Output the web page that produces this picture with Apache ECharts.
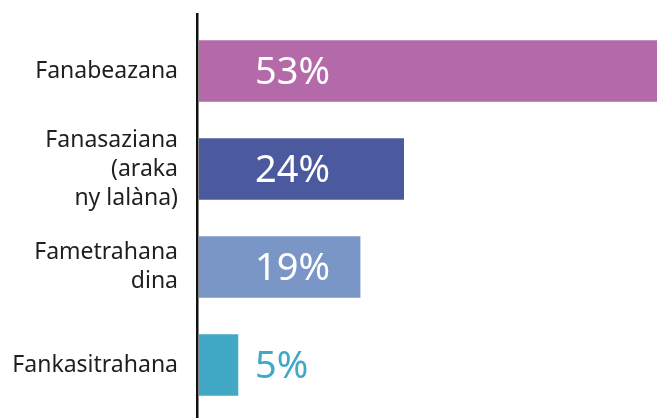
<!DOCTYPE html>
<html>
<head>
<meta charset="utf-8">
<script src="https://cdn.jsdelivr.net/npm/echarts@6/dist/echarts.min.js"></script>
<style>
  html, body { margin: 0; padding: 0; background: #fff; }
  #chart { width: 657px; height: 418px; }
</style>
</head>
<body>
<div id="chart"></div>
<script>
// data
const categories = ['Fanabeazana', 'Fanasaziana\n(araka\nny lalàna)', 'Fametrahana\ndina', 'Fankasitrahana']
const values = [53, 24, 19, 5]
const barColors = ['#b46aa8', '#4b5a9e', '#7a96c6', '#41a8c5']
const labelColors = ['#ffffff', '#ffffff', '#ffffff', '#41a8c5']

const chart = echarts.init(document.getElementById('chart'))

chart.setOption({
    animation: false,
    grid: {
        left: 199,
        right: 0,
        top: 22,
        bottom: 4,
        containLabel: false
    },
    xAxis: {
        type: 'value',
        min: 0.5,
        max: 53,
        show: false
    },
    yAxis: {
        type: 'category',
        inverse: true,
        data: categories,
        axisLine: { show: false },
        axisTick: { show: false },
        axisLabel: {
            margin: 21,
            color: '#1f1f1f',
            fontSize: 23,
            lineHeight: 29,
            fontFamily: 'Noto Sans',
            align: 'right'
        }
    },
    // vertical axis line runs past the plot area at top and bottom
    graphic: [{
        type: 'rect',
        shape: { x: 196, y: 13, width: 2.5, height: 410 },
        style: { fill: '#111' },
        z: 10
    }],
    series: [{
        type: 'bar',
        clip: true,
        barCategoryGap: '37%',
        data: values.map((v, i) => ({
            value: v,
            itemStyle: { color: barColors[i] },
            label: { color: labelColors[i] }
        })),
        label: {
            show: true,
            position: [56, '50%'],
            offset: [0, 2],
            verticalAlign: 'middle',
            fontSize: 38,
            fontFamily: 'Noto Sans',
            formatter: p => p.value + '%'
        }
    }]
})

window.addEventListener('resize', () => chart.resize())
</script>
</body>
</html>
